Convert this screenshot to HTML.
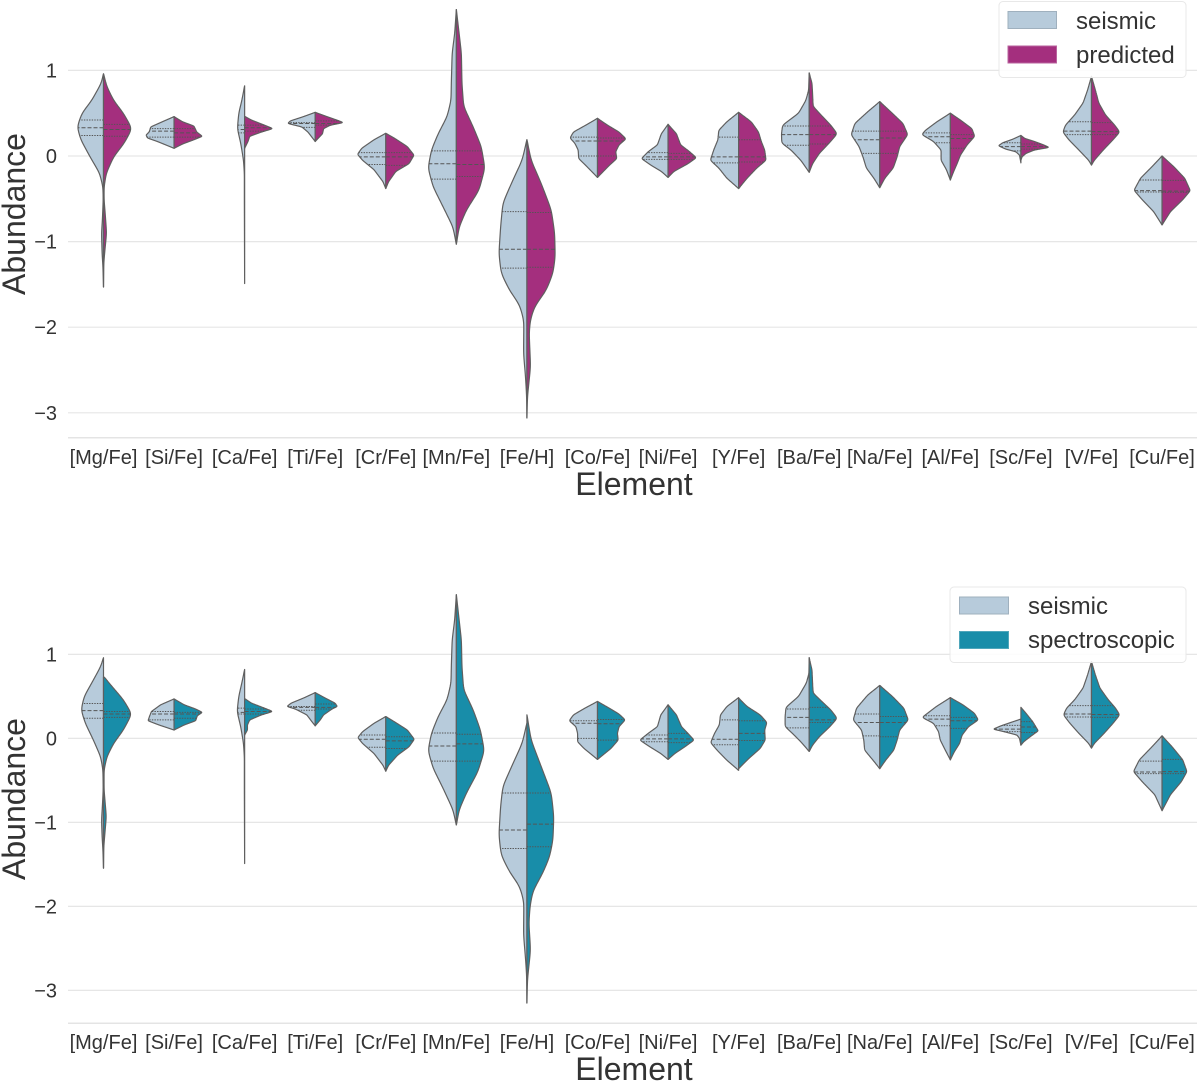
<!DOCTYPE html>
<html lang="en">
<head>
<meta charset="utf-8">
<title>Abundance violin plots</title>
<style>
html,body{margin:0;padding:0;background:#fff}
svg{display:block;filter:blur(0.35px)}
text{font-family:"Liberation Sans",Arial,sans-serif;fill:#333}
</style>
</head>
<body>
<svg id="chart" xmlns="http://www.w3.org/2000/svg" width="1200" height="1082" viewBox="0 0 1200 1082">
  <rect width="1200" height="1082" fill="#fff"/>
  <g id="panel-top"></g>
  <g id="panel-bottom"></g>

  <text x="634" y="495" font-size="32" text-anchor="middle">Element</text>
  <text transform="translate(25,214) rotate(-90)" font-size="32" text-anchor="middle">Abundance</text>
  <text x="634" y="1080" font-size="32" text-anchor="middle">Element</text>
  <text transform="translate(25,799) rotate(-90)" font-size="32" text-anchor="middle">Abundance</text>

  <g>
    <rect x="999" y="1.5" width="187" height="76" rx="4" fill="#fff" fill-opacity="0.85" stroke="#e8e8e8"/>
    <rect x="1008" y="11.5" width="48.5" height="17" fill="#b7cbdb" stroke="#9fb0be"/>
    <text x="1076" y="29" font-size="24">seismic</text>
    <rect x="1008" y="46" width="48.5" height="17" fill="#a42f7e" stroke="#b9639e"/>
    <text x="1076" y="63" font-size="24">predicted</text>
  </g>
  <g>
    <rect x="950" y="587" width="236" height="75.5" rx="4" fill="#fff" fill-opacity="0.85" stroke="#e8e8e8"/>
    <rect x="959.5" y="597" width="49" height="17" fill="#b7cbdb" stroke="#9fb0be"/>
    <text x="1028" y="614" font-size="24">seismic</text>
    <rect x="959.5" y="631.5" width="49" height="17" fill="#188da9" stroke="#4fa6bb"/>
    <text x="1028" y="648" font-size="24">spectroscopic</text>
  </g>
</svg>
<script>
const categories = ["[Mg/Fe]","[Si/Fe]","[Ca/Fe]","[Ti/Fe]","[Cr/Fe]","[Mn/Fe]","[Fe/H]","[Co/Fe]","[Ni/Fe]","[Y/Fe]","[Ba/Fe]","[Na/Fe]","[Al/Fe]","[Sc/Fe]","[V/Fe]","[Cu/Fe]"];
const yTicks = [1, 0, -1, -2, -3];
const yTickLabels = ["1", "0", "\u22121", "\u22122", "\u22123"];

// Each profile: [abundance, relative density] pairs, from high abundance to low.
const seismicTopProfiles = [
[[.96,0],[.85,.08],[.65,.42],[.5,.77],[.34,.94],[.19,.81],[-.01,.48],[-.2,.14],[-.36,.02],[-.51,.01],[-.75,.04],[-.9,.07],[-1.14,.05],[-1.29,.02],[-1.53,0]],
[[.46,0],[.4,.42],[.34,.83],[.28,.89],[.245,1],[.21,.95],[.17,.6],[.09,0]],
[[.82,0],[.65,.1],[.5,.21],[.32,.26],[.15,.14],[-.05,.04],[-.2,.01],[-.51,.01],[-1.49,0]],
[[.51,0],[.46,.42],[.41,.89],[.38,.98],[.34,.48],[.28,.26],[.17,0]],
[[.265,0],[.19,.42],[.09,.86],[.02,1.01],[-.05,.83],[-.16,.42],[-.3,.1],[-.38,0]],
[[1.71,0],[1.43,.06],[1.2,.15],[.85,.18],[.65,.19],[.46,.33],[.26,.65],[.07,.89],[-.14,1.01],[-.36,.83],[-.59,.48],[-.83,.12],[-1.03,0]],
[[.19,0],[-.05,.17],[-.28,.5],[-.55,.86],[-.83,.94],[-1.14,1],[-1.37,.92],[-1.57,.62],[-1.74,.26],[-1.92,.11],[-2.31,.12],[-2.58,.05],[-2.81,.01],[-3.06,0]],
[[.44,0],[.36,.42],[.28,.86],[.21,.98],[.15,.81],[.07,.69],[-.03,.67],[-.11,.42],[-.25,0]],
[[.37,0],[.26,.24],[.13,.38],[.05,.71],[-.03,.95],[-.11,.6],[-.18,.24],[-.25,0]],
[[.51,0],[.4,.42],[.3,.71],[.19,.74],[.07,.89],[-.05,1.01],[-.14,.71],[-.26,.42],[-.38,0]],
[[.97,0],[.77,.02],[.65,.12],[.5,.38],[.36,.95],[.26,.99],[.15,.98],[.07,.65],[-.05,.3],[-.19,0]],
[[.635,0],[.52,.42],[.38,.89],[.25,1.02],[.11,.74],[-.01,.6],[-.14,.48],[-.26,.21],[-.37,0]],
[[.5,0],[.4,.48],[.3,.89],[.25,1.02],[.17,.6],[.07,.33],[-.05,.33],[-.16,.14],[-.28,0]],
[[.24,0],[.195,.3],[.155,.65],[.12,.8],[.08,.54],[.05,.18],[.01,.05],[-.08,0]],
[[.93,0],[.77,.14],[.62,.3],[.48,.6],[.36,.93],[.28,1.02],[.19,.81],[.07,.45],[-.05,.1],[-.105,0]],
[[0,0],[-.125,.36],[-.26,.77],[-.4,1],[-.51,.71],[-.65,.3],[-.805,0]]
];
const predictedProfiles = [
[[.96,0],[.81,.12],[.65,.36],[.5,.71],[.32,1.02],[.15,.74],[-.01,.36],[-.2,.1],[-.36,.02],[-.51,.02],[-.67,.06],[-.9,.11],[-1.1,.05],[-1.25,.01],[-1.53,0]],
[[.46,0],[.4,.3],[.35,.71],[.28,.81],[.23,1.01],[.19,.71],[.14,.3],[.09,0]],
[[.46,.02],[.42,.24],[.36,.71],[.32,1.01],[.28,.6],[.23,.18],[.17,.12],[.09,0]],
[[.51,0],[.46,.42],[.42,.77],[.39,1.01],[.36,.54],[.32,.3],[.26,.26],[.17,0]],
[[.265,0],[.21,.3],[.11,.77],[.01,1.01],[-.09,.83],[-.18,.36],[-.3,.1],[-.38,0]],
[[1.71,0],[1.43,.1],[1.2,.18],[.85,.2],[.58,.26],[.34,.6],[.11,.89],[-.14,1.02],[-.4,.81],[-.63,.36],[-.83,.1],[-1.03,0]],
[[.19,0],[-.05,.15],[-.32,.51],[-.63,.87],[-.9,.99],[-1.18,1.01],[-1.37,.93],[-1.57,.69],[-1.76,.27],[-1.92,.12],[-2.07,.08],[-2.46,.13],[-2.81,.02],[-3.06,0]],
[[.44,0],[.36,.36],[.28,.77],[.2,1.02],[.13,.77],[.05,.65],[-.03,.69],[-.11,.42],[-.25,0]],
[[.37,0],[.26,.3],[.13,.45],[.05,.77],[-.02,1.01],[-.09,.71],[-.18,.21],[-.25,0]],
[[.51,0],[.4,.45],[.28,.71],[.17,.81],[.07,.93],[-.05,.98],[-.14,.65],[-.26,.3],[-.38,0]],
[[.97,0],[.85,.1],[.73,.12],[.58,.14],[.48,.42],[.36,.77],[.26,1],[.15,.71],[.03,.36],[-.09,.12],[-.19,0]],
[[.635,0],[.52,.38],[.38,.83],[.25,1],[.11,.71],[-.01,.62],[-.14,.48],[-.26,.18],[-.37,0]],
[[.5,0],[.42,.36],[.32,.77],[.23,.87],[.13,.6],[.01,.36],[-.09,.24],[-.18,.12],[-.28,0]],
[[.24,0],[.205,.14],[.17,.48],[.13,.81],[.1,1.01],[.07,.48],[.03,.18],[-.01,.04],[-.05,0]],
[[.93,0],[.77,.14],[.62,.26],[.48,.5],[.36,.83],[.28,1.01],[.19,.77],[.07,.42],[-.05,.1],[-.105,0]],
[[0,0],[-.125,.42],[-.26,.81],[-.405,1.01],[-.51,.74],[-.65,.3],[-.805,0]]
];
const seismicBottomProfiles = [
[[.96,0],[.855,.1],[.66,.42],[.5,.69],[.34,.8],[.18,.65],[-.02,.36],[-.22,.1],[-.375,.02],[-.61,.01],[-.81,.04],[-.97,.07],[-1.17,.05],[-1.33,.02],[-1.545,0]],
[[.47,0],[.4,.48],[.32,.81],[.26,.88],[.21,.93],[.16,.54],[.1,0]],
[[.82,0],[.66,.1],[.5,.21],[.32,.27],[.14,.14],[-.06,.04],[-.22,.01],[-.61,.01],[-1.49,0]],
[[.545,0],[.48,.42],[.42,.86],[.38,1.01],[.35,.71],[.28,.3],[.2,.12],[.15,0]],
[[.26,0],[.18,.42],[.08,.83],[.01,1],[-.06,.83],[-.18,.42],[-.32,.1],[-.39,0]],
[[1.71,0],[1.41,.06],[1.17,.15],[.855,.18],[.66,.19],[.46,.33],[.26,.65],[.06,.89],[-.145,1.01],[-.355,.83],[-.59,.48],[-.85,.12],[-1.03,0]],
[[.18,0],[-.06,.17],[-.3,.5],[-.57,.86],[-.81,.94],[-1.15,1],[-1.39,.92],[-1.59,.62],[-1.76,.26],[-1.94,.11],[-2.34,.12],[-2.62,.05],[-2.82,.01],[-3.15,0]],
[[.44,0],[.36,.45],[.28,.86],[.21,1.01],[.14,.77],[.06,.71],[-.04,.71],[-.12,.48],[-.25,0]],
[[.4,0],[.28,.26],[.14,.38],[.06,.71],[-.02,1.01],[-.1,.65],[-.18,.26],[-.25,0]],
[[.485,0],[.38,.42],[.28,.65],[.16,.69],[.06,.86],[-.05,1],[-.14,.77],[-.26,.42],[-.38,0]],
[[.96,0],[.775,.01],[.66,.1],[.5,.38],[.37,.83],[.26,.86],[.14,.86],[.06,.6],[-.04,.3],[-.155,0]],
[[.63,0],[.52,.42],[.36,.83],[.22,.95],[.1,.65],[-.02,.57],[-.14,.54],[-.26,.24],[-.36,0]],
[[.485,0],[.38,.5],[.28,.89],[.25,1.01],[.18,.6],[.08,.42],[-.02,.36],[-.14,.18],[-.255,0]],
[[.23,0],[.19,.36],[.15,.71],[.11,.99],[.08,.6],[.04,.14],[0,.05],[-.08,0]],
[[.915,0],[.755,.14],[.6,.3],[.46,.6],[.36,.89],[.28,1],[.18,.77],[.06,.45],[-.06,.1],[-.115,0]],
[[.03,0],[-.1,.36],[-.255,.81],[-.395,1.02],[-.515,.71],[-.67,.26],[-.86,0]]
];
const spectroscopicProfiles = [
[[.73,.02],[.62,.3],[.46,.71],[.29,1.01],[.1,.71],[-.06,.36],[-.22,.12],[-.375,.02],[-.61,.02],[-.77,.06],[-.93,.1],[-1.13,.05],[-1.29,.01],[-1.545,0]],
[[.47,0],[.4,.36],[.35,.77],[.31,1.01],[.27,.83],[.21,.77],[.16,.36],[.1,0]],
[[.47,.02],[.42,.24],[.36,.71],[.32,1.01],[.28,.6],[.22,.18],[.16,.1],[.1,.1],[.04,0]],
[[.545,0],[.48,.36],[.42,.71],[.38,.79],[.35,.6],[.28,.3],[.22,.18],[.15,0]],
[[.26,0],[.2,.3],[.1,.77],[-.01,1.02],[-.1,.83],[-.2,.42],[-.32,.1],[-.39,0]],
[[1.71,0],[1.41,.1],[1.17,.18],[.855,.2],[.58,.26],[.34,.6],[.1,.86],[-.145,1],[-.395,.77],[-.65,.36],[-.85,.1],[-1.03,0]],
[[.28,0],[-.02,.15],[-.335,.51],[-.65,.87],[-.93,.96],[-1.21,.93],[-1.41,.81],[-1.6,.57],[-1.82,.21],[-2,.11],[-2.2,.07],[-2.52,.13],[-2.87,.02],[-3.15,0]],
[[.44,0],[.36,.42],[.29,.77],[.22,.99],[.14,.77],[.06,.71],[-.02,.74],[-.12,.48],[-.25,0]],
[[.4,0],[.28,.3],[.14,.48],[.06,.71],[-.02,.93],[-.1,.6],[-.18,.24],[-.25,0]],
[[.48,0],[.38,.3],[.28,.77],[.19,1.01],[.1,.93],[-.02,.95],[-.12,.77],[-.24,.36],[-.36,0]],
[[.96,0],[.815,.1],[.66,.12],[.54,.14],[.44,.45],[.34,.77],[.24,1],[.14,.74],[.02,.36],[-.08,.12],[-.155,0]],
[[.63,0],[.5,.45],[.36,.86],[.22,1.02],[.1,.71],[-.02,.62],[-.14,.5],[-.26,.21],[-.36,0]],
[[.485,0],[.4,.45],[.3,.86],[.22,1],[.14,.65],[.04,.42],[-.06,.33],[-.16,.14],[-.255,0]],
[[.37,0],[.3,.18],[.2,.42],[.09,.62],[.02,.33],[-.04,.1],[-.08,0]],
[[.915,0],[.755,.14],[.6,.3],[.46,.6],[.36,.86],[.28,1.01],[.18,.77],[.06,.45],[-.06,.1],[-.115,0]],
[[.03,0],[-.1,.36],[-.255,.74],[-.395,.89],[-.515,.69],[-.67,.3],[-.86,0]]
];

// Quartiles per element: [q3, median, q1]
const seismicTopQuartiles = [[.42,.33,.24],[.32,.29,.22],[.36,.31,.27],[.39,.38,.335],[.04,-.01,-.1],[.06,-.09,-.27],[-.65,-1.09,-1.31],[.22,.175,0],[.04,-.01,-.04],[.22,-.01,-.08],[.35,.25,.125],[.29,.19,.03],[.27,.225,.155],[.155,.11,.06],[.4,.29,.25],[-.28,-.405,-.42]];
const predictedQuartiles = [[.37,.31,.23],[.32,.27,.22],[.36,.33,.29],[.41,.38,.36],[.04,-.01,-.11],[.06,-.1,-.24],[-.66,-1.09,-1.3],[.21,.175,0],[.03,-.01,-.04],[.19,-.01,-.07],[.35,.25,.14],[.29,.21,.03],[.25,.205,.09],[.14,.11,.08],[.39,.285,.25],[-.285,-.41,-.425]];
const seismicBottomQuartiles = [[.415,.33,.24],[.32,.29,.22],[.36,.31,.29],[.38,.37,.335],[.04,-.01,-.105],[.065,-.09,-.27],[-.65,-1.09,-1.31],[.21,.18,0],[.04,-.005,-.04],[.22,-.01,-.075],[.35,.25,.125],[.29,.19,.03],[.27,.23,.15],[.155,.11,.08],[.39,.29,.255],[-.27,-.4,-.42]];
const spectroscopicQuartiles = [[.32,.29,.25],[.31,.29,.24],[.35,.32,.29],[.41,.37,.35],[.02,-.03,-.12],[.05,-.065,-.27],[-.65,-1.02,-1.29],[.225,.175,-.02],[.06,-.005,-.05],[.21,.06,-.025],[.37,.22,.19],[.26,.19,.02],[.25,.21,.12],[.2,.135,.07],[.39,.285,.25],[-.25,-.395,-.42]];

const SVG_NS = "http://www.w3.org/2000/svg";
const COLOR_SEISMIC = "#b7cbdb";
const COLOR_PREDICTED = "#a42f7e";
const COLOR_SPECTRO = "#188da9";
const OUTLINE = "#5f5f5f";

function xScale(i) { return 103.5 + i * 70.57; }
function yScaleFactory(zeroPx, unitPx) { return function (v) { return zeroPx - v * unitPx; }; }
function widthScale(d) { return d * 28; }

function svgEl(tag, attrs) {
  const el = document.createElementNS(SVG_NS, tag);
  for (const k in attrs) el.setAttribute(k, attrs[k]);
  return el;
}

// Resample a [abundance, density] profile on a fine grid and apply a gaussian
// kernel so the outline reads as a smooth density curve.
function smoothProfile(profile) {
  const n = profile.length, STEPS = 320, SIGMA = 5, R = 15;
  const top = profile[0][0], bottom = profile[n - 1][0];
  const dv = (top - bottom) / STEPS;
  const raw = [];
  let seg = 0;
  for (let s = 0; s <= STEPS; s++) {
    const v = top - s * dv;
    while (seg < n - 2 && v < profile[seg + 1][0]) seg++;
    const a = profile[seg], b = profile[seg + 1];
    const t = (a[0] - v) / (a[0] - b[0]);
    raw.push(a[1] + (b[1] - a[1]) * t);
  }
  const out = [];
  for (let s = 0; s <= STEPS; s++) {
    let sum = 0, wsum = 0;
    for (let k = -R; k <= R; k++) {
      const w = Math.exp(-k * k / (2 * SIGMA * SIGMA));
      const j = Math.min(STEPS, Math.max(0, s + k));
      sum += raw[j] * w;
      wsum += w;
    }
    const edge = Math.min(1, Math.min(s, STEPS - s) / 6);
    const smooth = sum / wsum;
    out.push([top - s * dv, raw[s] * (1 - edge) + smooth * edge]);
  }
  return out;
}

function densityAt(samples, v) {
  for (let i = 0; i < samples.length - 1; i++) {
    const a = samples[i], b = samples[i + 1];
    if (v <= a[0] && v >= b[0]) {
      const t = (a[0] - v) / ((a[0] - b[0]) || 1);
      return a[1] + (b[1] - a[1]) * t;
    }
  }
  return 0;
}

function drawHalf(parent, i, side, profile, quartiles, color, yScale, name) {
  const cx = xScale(i);
  const samples = smoothProfile(profile);
  let d = "M" + cx.toFixed(2) + " " + yScale(samples[0][0]).toFixed(2);
  samples.forEach(function (p) {
    d += "L" + (cx + side * widthScale(p[1])).toFixed(2) + " " + yScale(p[0]).toFixed(2);
  });
  d += "L" + cx.toFixed(2) + " " + yScale(samples[samples.length - 1][0]).toFixed(2) + "Z";
  const path = svgEl("path", { d: d, fill: color, stroke: OUTLINE, "stroke-width": 1.2, "stroke-linejoin": "round" });
  
  
  parent.appendChild(path);
  quartiles.forEach(function (q, k) {
    const y = yScale(q);
    const w = widthScale(densityAt(samples, q));
    const line = svgEl("line", {
      x1: cx, x2: cx + side * w, y1: y, y2: y,
      stroke: "#555", "stroke-width": 1,
      "stroke-dasharray": k === 1 ? "4 2" : "1.4 1.2"
    });
    
    
    parent.appendChild(line);
  });
}

function drawPanel(panelId, zeroPx, unitPx, spineY, labelY, leftP, rightP, leftQ, rightQ, rightColor) {
  const g = document.getElementById(panelId);
  const yScale = yScaleFactory(zeroPx, unitPx);
  yTicks.forEach(function (t, i) {
    const y = yScale(t);
    const grid = svgEl("line", { x1: 68, x2: 1197, y1: y, y2: y, stroke: "#e6e6e6", "stroke-width": 1.2 });
    
    
    g.appendChild(grid);
    const label = svgEl("text", { x: 57, y: y + 7, "font-size": 20, "text-anchor": "end" });
    label.textContent = yTickLabels[i];
    
    
    g.appendChild(label);
  });
  const spine = svgEl("line", { x1: 68, x2: 1197, y1: spineY, y2: spineY, stroke: "#e4e4e4", "stroke-width": 1.5 });
  
  
  g.appendChild(spine);
  categories.forEach(function (c, i) {
    const violin = svgEl("g", {});
    
    
    drawHalf(violin, i, -1, leftP[i], leftQ[i], COLOR_SEISMIC, yScale, 'violin-half-seismic');
    drawHalf(violin, i, 1, rightP[i], rightQ[i], rightColor, yScale, 'violin-half-comparison');
    g.appendChild(violin);
    const label = svgEl("text", { x: xScale(i), y: labelY, "font-size": 20, "text-anchor": "middle" });
    label.textContent = c;
    
    
    g.appendChild(label);
  });
}

drawPanel("panel-top", 156, 85.6, 437.7, 464, seismicTopProfiles, predictedProfiles, seismicTopQuartiles, predictedQuartiles, COLOR_PREDICTED);
drawPanel("panel-bottom", 738.4, 84, 1023.3, 1049, seismicBottomProfiles, spectroscopicProfiles, seismicBottomQuartiles, spectroscopicQuartiles, COLOR_SPECTRO);
</script>
</body>
</html>
